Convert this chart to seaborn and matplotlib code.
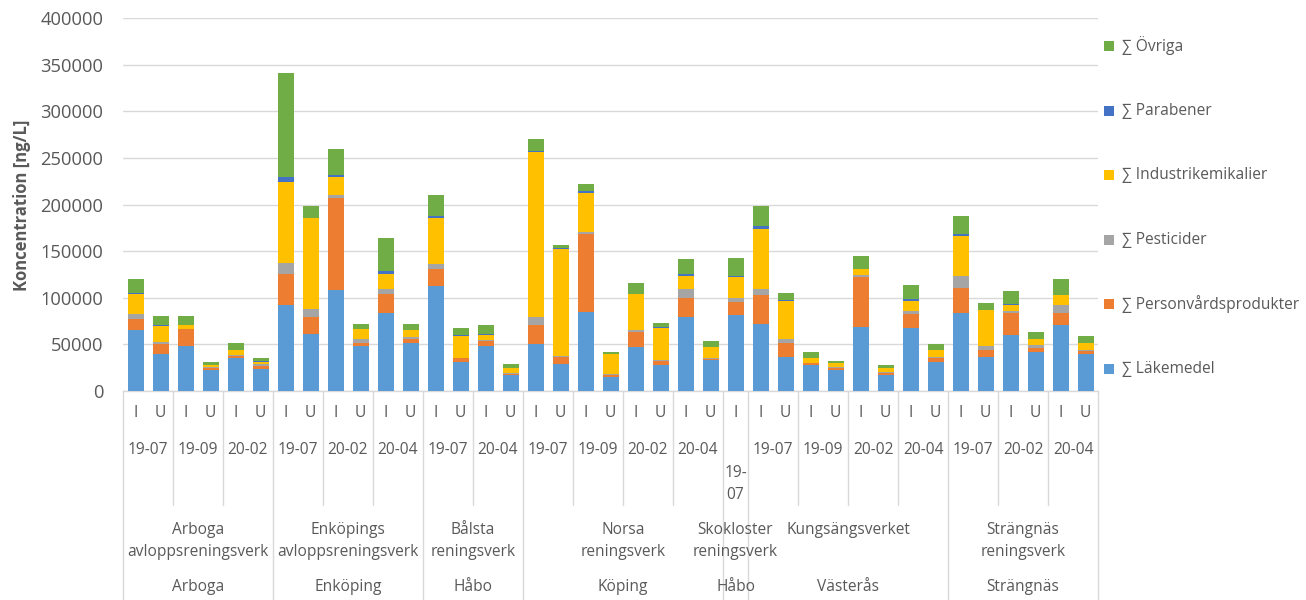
import numpy as np
import pandas as pd
import matplotlib
matplotlib.use("Agg")
import matplotlib.pyplot as plt
import seaborn as sns
from matplotlib.transforms import blended_transform_factory
from matplotlib.patches import Rectangle
from matplotlib.lines import Line2D

# ---------------- data ----------------
sample = ["I", "U", "I", "U", "I", "U",
          "I", "U", "I", "U", "I", "U",
          "I", "U", "I", "U",
          "I", "U", "I", "U", "I", "U", "I", "U",
          "I",
          "I", "U", "I", "U", "I", "U", "I", "U",
          "I", "U", "I", "U", "I", "U"]
dates = ["19-07", "19-07", "19-09", "19-09", "20-02", "20-02",
         "19-07", "19-07", "20-02", "20-02", "20-04", "20-04",
         "19-07", "19-07", "20-04", "20-04",
         "19-07", "19-07", "19-09", "19-09", "20-02", "20-02", "20-04", "20-04",
         "19-07",
         "19-07", "19-07", "19-09", "19-09", "20-02", "20-02", "20-04", "20-04",
         "19-07", "19-07", "20-02", "20-02", "20-04", "20-04"]
plant_names = ["Arboga\navloppsreningsverk", "Enköpings\navloppsreningsverk",
               "Bålsta\nreningsverk", "Norsa\nreningsverk",
               "Skokloster\nreningsverk", "Kungsängsverket", "Strängnäs\nreningsverk"]
plant_counts = [6, 6, 4, 8, 1, 8, 6]
municipalities = ["Arboga", "Enköping", "Håbo", "Köping", "Håbo", "Västerås", "Strängnäs"]

lakemedel = [65000, 40000, 48000, 22500, 35000, 23500,
             92000, 61000, 108500, 48000, 83500, 51000,
             113000, 31000, 48000, 17500,
             50000, 28500, 84500, 15500, 47000, 28000, 79000, 33000,
             81000,
             71500, 36000, 27500, 23000, 68500, 17000, 67500, 31000,
             83500, 36500, 60000, 42000, 70500, 40000]
personvard = [12000, 10500, 18000, 2500, 2000, 3500,
              33000, 18000, 98500, 4000, 20500, 4500,
              18000, 4000, 5500, 1000,
              20500, 8000, 84000, 1500, 16000, 4000, 20500, 1500,
              14000,
              31000, 15000, 2000, 2000, 54000, 2000, 15000, 4000,
              27000, 7500, 24000, 4000, 13500, 2500]
pesticider = [5500, 2000, 1000, 1000, 1500, 1500,
              12000, 8500, 3000, 3500, 5500, 2000,
              5500, 500, 1000, 500,
              9000, 1000, 2500, 1000, 2500, 1000, 10000, 500,
              4500,
              7000, 4500, 1000, 1000, 1500, 1000, 3500, 1000,
              13000, 4500, 2000, 3000, 8500, 2000]
industri = [22000, 17500, 3500, 1500, 5500, 3000,
            87000, 98000, 20000, 11000, 16000, 8000,
            49000, 24000, 6000, 5500,
            177000, 115000, 41500, 21500, 38500, 35000, 13500, 12000,
            23000,
            64000, 41500, 4500, 4000, 6500, 4500, 10500, 7500,
            43000, 38000, 6500, 7000, 10000, 7000]
parabener = [500, 300, 200, 200, 200, 200,
             5000, 500, 1500, 300, 3000, 300,
             2500, 300, 300, 200,
             1000, 500, 1500, 200, 300, 1000, 3000, 200,
             1000,
             3000, 500, 200, 200, 300, 300, 2000, 200,
             1500, 300, 300, 300, 300, 300]
ovriga = [15000, 10500, 9500, 3500, 7000, 3500,
          112000, 12000, 28000, 5000, 35500, 6500,
          22000, 8000, 9500, 4000,
          12500, 4000, 8500, 2000, 11000, 3500, 15500, 6500,
          19000,
          21500, 8000, 6500, 2000, 14000, 3000, 15000, 6500,
          20000, 7500, 14000, 7000, 17000, 7000]

series_names = ["∑ Läkemedel", "∑ Personvårdsprodukter", "∑ Pesticider",
                "∑ Industrikemikalier", "∑ Parabener", "∑ Övriga"]
series_values = [lakemedel, personvard, pesticider, industri, parabener, ovriga]
colors = ["#5B9BD5", "#ED7D31", "#A5A5A5", "#FFC000", "#4472C4", "#70AD47"]
yticks = [0, 50000, 100000, 150000, 200000, 250000, 300000, 350000, 400000]

# ---------------- style ----------------
sns.set_theme(style="white")
plt.rcParams['font.family'] = ['Open Sans', 'DejaVu Sans']
TXT = "#595959"
GRID = "#D9D9D9"

W, H = 1306, 600
fig = plt.figure(figsize=(W / 100, H / 100), dpi=100)
x0, x1, ybot, ytop = 123, 1098, 391, 18
ax = fig.add_axes([x0 / W, 1 - ybot / H, (x1 - x0) / W, (ybot - ytop) / H])

n = len(sample)
df = pd.DataFrame({"bar": np.arange(n)})
cum = np.zeros(n)
for name, vals in zip(series_names, series_values):
    cum = cum + np.array(vals, dtype=float)
    df[name] = cum.copy()

for name, col in reversed(list(zip(series_names, colors))):
    sns.barplot(data=df, x="bar", y=name, color=col, width=0.64, saturation=1,
                errorbar=None, linewidth=0, ax=ax, zorder=3)

ax.set_xlim(-0.5, n - 0.5)
ax.set_ylim(0, 400000)
ax.set_yticks(yticks)
ax.set_yticklabels([str(v) for v in yticks], fontsize=13.2, color=TXT)
ax.tick_params(axis="y", length=0, pad=14)
ax.set_xticks([])
ax.set_xlabel("")
ax.set_ylabel("")
ax.yaxis.grid(True, color=GRID, linewidth=1, zorder=0)
ax.set_axisbelow(True)
for s in ["top", "right", "left"]:
    ax.spines[s].set_visible(False)
ax.spines["bottom"].set_color(GRID)
ax.spines["bottom"].set_linewidth(1)

fig.text(22 / W, 1 - 205 / H, "Koncentration [ng/L]", rotation=90, ha="center",
         va="center", fontsize=12, fontweight="bold", color=TXT)

# ---------------- multi-level category axis ----------------
tr = blended_transform_factory(ax.transData, fig.transFigure)
fy = lambda p: 1 - p / H

plant_of_bar = []
for pi, c in enumerate(plant_counts):
    plant_of_bar += [pi] * c

def vline(x, ybottom_px):
    fig.add_artist(Line2D([x, x], [fy(ybot), fy(ybottom_px)], transform=tr,
                          color=GRID, linewidth=1, clip_on=False))

vline(-0.5, 600)
vline(n - 0.5, 600)
for k in range(1, n):
    if plant_of_bar[k] != plant_of_bar[k - 1]:
        vline(k - 0.5, 600)
    elif dates[k] != dates[k - 1]:
        vline(k - 0.5, 505)

FS = 11.2
for i, s in enumerate(sample):
    fig.text(i, fy(413), s, transform=tr, ha="center", va="center", fontsize=FS, color=TXT)

# date groups
start = 0
for k in range(1, n + 1):
    if k == n or dates[k] != dates[start] or plant_of_bar[k] != plant_of_bar[start]:
        cx = (start + k - 1) / 2
        if k - start == 1:
            a, b = dates[start].split("-")
            fig.text(cx, fy(473), a + "-", transform=tr, ha="center", va="center", fontsize=FS, color=TXT)
            fig.text(cx, fy(495), b, transform=tr, ha="center", va="center", fontsize=FS, color=TXT)
        else:
            fig.text(cx, fy(450), dates[start], transform=tr, ha="center", va="center", fontsize=FS, color=TXT)
        start = k

# plants and municipalities
start = 0
for pi, c in enumerate(plant_counts):
    cx = start + (c - 1) / 2
    for li, line in enumerate(plant_names[pi].split("\n")):
        fig.text(cx, fy(530 + 21.5 * li), line, transform=tr, ha="center", va="center",
                 fontsize=FS, color=TXT)
    fig.text(cx, fy(587), municipalities[pi], transform=tr, ha="center", va="center",
             fontsize=FS, color=TXT)
    start += c

# ---------------- legend ----------------
for i, (name, col) in enumerate(zip(series_names, colors)):
    ypx = 369 - 64.6 * i
    fig.add_artist(Rectangle((1104 / W, fy(ypx + 5)), 10 / W, 10 / H,
                             transform=fig.transFigure, facecolor=col, edgecolor="none"))
    fig.text(1122 / W, fy(ypx), name, ha="left", va="center", fontsize=FS, color=TXT)

fig.savefig("out.png", dpi=100)
